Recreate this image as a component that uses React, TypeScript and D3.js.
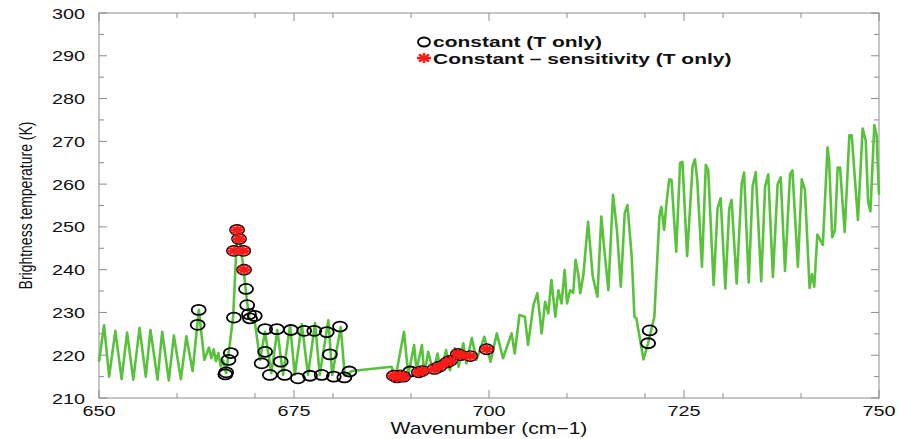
import React from "react";
import * as d3 from "d3";

const specX = [650.0,650.65,651.3,652.1,652.9,653.6,654.4,655.2,656.0,656.6,657.5,658.1,658.95,659.6,660.5,661.2,662.0,662.8,663.5,664.1,664.4,664.7,665.0,665.3,665.6,665.9,666.3,667.2,667.75,668.5,668.97,669.3,670.0,670.64,671.28,672.1,672.86,673.6,674.5,675.1,676.0,676.8,677.7,678.3,679.4,679.9,681.0,681.5,682.4,687.5,688.0,689.1,689.65,690.4,690.7,691.4,691.7,692.2,692.85,693.4,693.8,694.5,695.0,695.6,696.1,696.7,697.1,697.8,698.4,699.4,700.2,701.0,701.8,702.9,703.3,703.9,704.6,705.0,705.7,706.2,706.75,707.2,707.6,708.0,708.5,708.9,709.3,709.7,710.0,710.4,710.8,711.1,711.45,711.7,712.1,712.7,713.3,713.9,714.4,714.75,715.3,715.9,716.4,716.9,717.4,717.75,718.3,718.65,718.9,719.8,720.4,721.2,721.85,722.1,722.45,722.75,723.1,723.4,724.0,724.5,724.8,725.4,726.1,726.4,726.7,727.3,727.8,728.1,728.8,729.3,729.7,730.3,730.8,731.1,731.75,732.4,732.7,733.3,733.8,734.2,734.9,735.4,735.8,736.4,737.0,737.4,737.95,738.6,738.9,739.6,740.1,740.5,741.1,741.4,741.7,742.1,742.4,742.8,743.4,743.6,744.0,744.35,744.7,745.0,745.6,746.2,746.5,747.3,747.9,748.3,748.6,748.9,749.4,749.7,750.0];
const specY = [218.5,227,215,225.7,214.4,225.3,214.3,226.4,215,225.9,214.3,225.5,214.1,224.6,214.4,224.4,216.3,230.6,218.9,221.8,219.3,221.4,218.6,220.5,217.4,218.8,215.8,229,250.4,240.7,232.6,228.6,227.5,218.9,225.5,215.8,225.9,215.4,227,215.4,227.3,215.4,227.5,215.4,228.2,215.4,226.6,215.2,216.3,217.3,214.6,225.5,215.4,222.4,216.5,222.4,215.4,220.8,216.2,220.4,216.2,221.2,216.5,221.6,217.3,222.8,218.1,224.0,218.9,224.3,218.5,225.1,219.3,225.1,220.4,229.4,229,222.4,231.7,234.5,225.1,232.5,229.8,237.6,229,235.2,232.1,239.9,232.1,235.2,234.6,242.3,238.8,234.5,238.8,251.2,238.4,233.7,252.4,245.4,235.2,257.5,249.3,236,253.2,255.1,243,229,228.6,219.0,222.8,229,252.4,254.7,249.3,255.5,261.1,261,244.2,265,265.2,243.2,264.2,265.8,261,240.7,264.5,263.3,236.4,254.3,256.7,235.6,254.3,256.3,236.8,260.2,262.7,237,259.5,262.8,237.3,259.5,262.3,238.3,259.9,261.6,239.7,262.3,263.2,240.7,261.1,258.7,235.7,238.9,236,248.2,247.2,245.8,268.6,265.5,247.6,249.2,263.9,263.9,248.8,271.4,271.4,251.6,273,270.2,255.9,253.6,273.8,271.4,257.5];

const constX = [662.78,662.65,666.2,666.3,666.6,666.9,667.3,668.85,669.0,669.23,669.36,669.97,670.85,671.3,671.3,671.9,672.8,673.3,673.8,674.6,675.5,676.3,677.05,677.6,678.55,679.2,679.6,680.1,680.9,681.45,682.1,689.9,720.4,720.6];
const constY = [230.6,227.1,215.5,216.0,218.9,220.5,228.8,235.5,231.7,229.6,228.6,229.2,218.1,226.1,220.8,215.4,226.1,218.5,215.4,225.9,214.6,225.7,215.2,225.7,215.4,225.4,220.2,215.0,226.7,214.8,216.2,216.2,222.8,225.8];

const sensX = [667.7,667.95,667.3,668.5,668.6,687.8,688.2,688.6,689.0,691.0,691.4,693.0,693.6,694.6,695.0,696.0,696.3,697.6,699.7];
const sensY = [249.3,247.2,244.4,244.4,240.0,215.2,214.8,215.3,215.0,216.0,216.3,216.8,217.3,218.3,218.7,220.3,220.0,219.8,221.4];

const xMajor = [650, 675, 700, 725, 750];
const xMinor = [660, 670, 680, 690, 710, 720, 730, 740];
const yMajor = [210, 220, 230, 240, 250, 260, 270, 280, 290, 300];
const yMinor = [215, 225, 235, 245, 255, 265, 275, 285, 295];

const legendLabels = ["constant (T only)", "Constant \u2013 sensitivity (T only)"];
const xTitle = "Wavenumber (cm\u22121)";
const yTitle = "Brightness temperature (K)";

const W = 905, H = 439;
const L = 99, R = 879, T = 13, B = 398;
const AX = "#8c8c8c";
const GREEN = "#58c23c";
const FONT = "Liberation Sans, Arial, Helvetica, sans-serif";
const SX = 1.28;

function Asterisk({ cx, cy }: { cx: number; cy: number }) {
  const rx = 7, ry = 5;
  const angles = [0, 45, 90, 135];
  return (
    <g>
      {angles.map((a) => {
        const r = (a * Math.PI) / 180;
        const dx = Math.cos(r) * rx, dy = Math.sin(r) * ry;
        return <line key={a} x1={cx - dx} y1={cy - dy} x2={cx + dx} y2={cy + dy} stroke="#ff1a1a" strokeWidth={2.6} />;
      })}
    </g>
  );
}

function HText({ x, y, sx, anchor, size, weight, children }: any) {
  return (
    <text transform={`translate(${x},${y}) scale(${sx},1)`} textAnchor={anchor} fontSize={size} fontWeight={weight || "normal"} fill="#111">
      {children}
    </text>
  );
}

export default function App() {
  const x = d3.scaleLinear().domain([650, 750]).range([L, R]);
  const y = d3.scaleLinear().domain([210, 300]).range([B, T]);
  const spec = specX.map((v, i) => [v, specY[i]] as [number, number]);
  const line = d3.line<[number, number]>().x((d) => x(d[0])).y((d) => y(d[1]));
  const cons = constX.map((v, i) => [v, constY[i]]);
  const sens = sensX.map((v, i) => [v, sensY[i]]);

  return (
    <svg width={W} height={H} style={{ position: "absolute", left: 0, top: 0, background: "#fff" }} fontFamily={FONT}>
      <rect x={0} y={0} width={W} height={H} fill="#fff" />
      <rect x={L} y={T} width={R - L} height={B - T} fill="none" stroke={AX} strokeWidth={1} />
      {xMajor.map((v) => (
        <g key={"xM" + v}>
          <line x1={x(v)} x2={x(v)} y1={B} y2={B - 8} stroke={AX} />
          <line x1={x(v)} x2={x(v)} y1={T} y2={T + 8} stroke={AX} />
          <HText x={x(v)} y={B + 18} sx={SX} anchor="middle" size={15.5}>{v}</HText>
        </g>
      ))}
      {xMinor.map((v) => (
        <g key={"xm" + v}>
          <line x1={x(v)} x2={x(v)} y1={B} y2={B - 5} stroke={AX} />
          <line x1={x(v)} x2={x(v)} y1={T} y2={T + 5} stroke={AX} />
        </g>
      ))}
      {yMajor.map((v) => (
        <g key={"yM" + v}>
          <line x1={L} x2={L + 8} y1={y(v)} y2={y(v)} stroke={AX} />
          <line x1={R} x2={R - 8} y1={y(v)} y2={y(v)} stroke={AX} />
          <HText x={L - 14} y={y(v) + 5.5} sx={SX} anchor="end" size={15.5}>{v}</HText>
        </g>
      ))}
      {yMinor.map((v) => (
        <g key={"ym" + v}>
          <line x1={L} x2={L + 5} y1={y(v)} y2={y(v)} stroke={AX} />
          <line x1={R} x2={R - 5} y1={y(v)} y2={y(v)} stroke={AX} />
        </g>
      ))}
      <HText x={(L + R) / 2} y={434} sx={1.32} anchor="middle" size={16}>{xTitle}</HText>
      <text transform={`translate(32,${(T + B) / 2}) scale(${SX},1) rotate(-90)`} textAnchor="middle" fontSize={14} fill="#111">{yTitle}</text>
      <path d={line(spec) || ""} fill="none" stroke={GREEN} strokeWidth={2.6} strokeLinejoin="round" />
      {cons.map((d, i) => (
        <ellipse key={"c" + i} cx={x(d[0])} cy={y(d[1])} rx={7} ry={5} fill="none" stroke="#000" strokeWidth={1.8} />
      ))}
      {sens.map((d, i) => (
        <ellipse key={"sc" + i} cx={x(d[0])} cy={y(d[1])} rx={7} ry={5} fill="none" stroke="#000" strokeWidth={1.8} />
      ))}
      {sens.map((d, i) => (
        <Asterisk key={"s" + i} cx={x(d[0])} cy={y(d[1])} />
      ))}
      <ellipse cx={424} cy={42} rx={6} ry={4.5} fill="none" stroke="#000" strokeWidth={1.8} />
      <g fill="#000">
        <HText x={433} y={47} sx={1.4} anchor="start" size={15} weight="bold">{legendLabels[0]}</HText>
        <Asterisk cx={424} cy={58} />
        <HText x={433} y={64} sx={1.4} anchor="start" size={15} weight="bold">{legendLabels[1]}</HText>
      </g>
    </svg>
  );
}
